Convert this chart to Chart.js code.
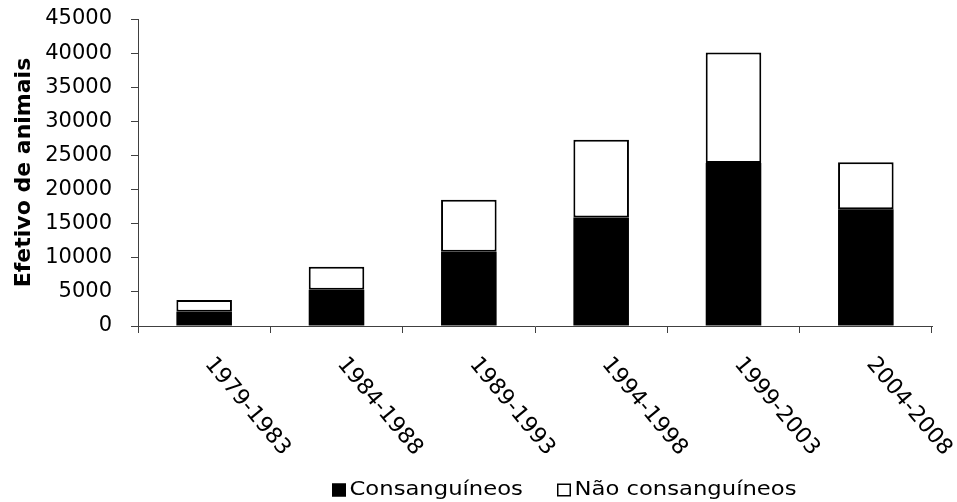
<!DOCTYPE html>
<html lang="pt">
<head>
  <meta charset="UTF-8" />
  <title>Efetivo de animais</title>
  <script src="https://cdn.jsdelivr.net/npm/chart.js"></script>
  <style>
    html, body { margin: 0; padding: 0; background: #fff; }
    #wrap { width: 957px; height: 502px; }
  </style>
</head>
<body>
<div id="wrap"><canvas id="chart"></canvas></div>

<script>
  // data
  const periods = ['1979-1983', '1984-1988', '1989-1993', '1994-1998', '1999-2003', '2004-2008'];
  const consanguineos = [2100, 5300, 10900, 15900, 23900, 17100];
  const naoConsanguineos = [1700, 3400, 7600, 11400, 16200, 6900];
  const yTicks = [0, 5000, 10000, 15000, 20000, 25000, 30000, 35000, 40000, 45000];

  const FONT = '"DejaVu Sans", sans-serif';

  // rotated category labels (they run down to the right) + legend
  const extras = {
    id: 'extras',
    afterDraw(chart) {
      const ctx = chart.ctx;
      const xs = chart.scales.x;
      ctx.save();
      ctx.fillStyle = '#000';
      ctx.font = '22px ' + FONT;
      ctx.textAlign = 'left';
      ctx.textBaseline = 'top';
      periods.forEach((p, i) => {
        const x = xs.getPixelForValue(i) + 13;
        const y = xs.top + 27.5;
        ctx.save();
        ctx.translate(x, y);
        ctx.rotate(50 * Math.PI / 180);
        ctx.fillText(p, 0, 0);
        ctx.restore();
      });

      // legend
      ctx.font = '20px ' + FONT;
      ctx.textBaseline = 'middle';
      const ly = 490;
      const items = [
        { x: 332, label: chart.data.datasets[0].label, fill: '#000' },
        { x: 557, label: chart.data.datasets[1].label, fill: '#fff' }
      ];
      items.forEach(it => {
        ctx.fillStyle = it.fill;
        ctx.fillRect(it.x, ly - 6.5, 14, 13);
        ctx.strokeStyle = '#000';
        ctx.lineWidth = 1.5;
        ctx.strokeRect(it.x + 0.75, ly - 5.75, 12.5, 11.5);
        ctx.fillStyle = '#000';
        ctx.save();
        ctx.translate(it.x + 17.5, ly);
        ctx.scale(1.135, 1);
        ctx.fillText(it.label, 0, 0);
        ctx.restore();
      });
      ctx.restore();
    }
  };

  new Chart(document.getElementById('chart'), {
    type: 'bar',
    data: {
      labels: periods,
      datasets: [
        {
          label: 'Consanguíneos',
          data: consanguineos,
          backgroundColor: '#000',
          borderWidth: 0
        },
        {
          label: 'Não consanguíneos',
          data: naoConsanguineos,
          backgroundColor: '#fff',
          borderColor: '#000',
          borderWidth: 2,
          borderSkipped: false
        }
      ]
    },
    options: {
      responsive: true,
      maintainAspectRatio: false,
      animation: false,
      layout: { padding: { top: 19, right: 25, left: 0, bottom: 0 } },
      datasets: { bar: { categoryPercentage: 1, barPercentage: 0.42 } },
      plugins: {
        legend: { display: false },
        tooltip: { enabled: false }
      },
      scales: {
        x: {
          stacked: true,
          grid: { display: true, drawOnChartArea: false, drawTicks: true, tickLength: 7, color: '#404040', offset: true },
          border: { display: true, color: '#404040', width: 1 },
          ticks: { display: false },
          afterFit(scale) { scale.height = 176; }
        },
        y: {
          stacked: true,
          min: 0,
          max: 45000,
          afterBuildTicks(scale) { scale.ticks = yTicks.map(v => ({ value: v })); },
          grid: { display: true, drawOnChartArea: false, drawTicks: true, tickLength: 7, color: '#404040' },
          border: { display: true, color: '#404040', width: 1 },
          ticks: {
            color: '#000',
            padding: 19,
            font: { family: FONT, size: 21 },
            callback: v => String(v)
          },
          title: {
            display: true,
            text: 'Efetivo de animais',
            color: '#000',
            font: { family: FONT, size: 22, weight: 'bold' },
            padding: { top: 11, bottom: 0 }
          },
          afterFit(scale) {
            scale.width = 138;
            scale.paddingTop = 0;
            scale.paddingBottom = 0;
          }
        }
      }
    },
    plugins: [extras]
  });
</script>
</body>
</html>
